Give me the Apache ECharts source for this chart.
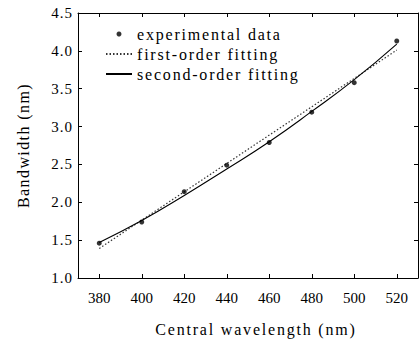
<!DOCTYPE html>
<html>
<head>
<meta charset="utf-8">
<script src="https://cdn.jsdelivr.net/npm/echarts@6/dist/echarts.min.js"></script>
<style>
  html, body { margin: 0; padding: 0; background: #fff; }
  #chart { width: 419px; height: 342px; }
</style>
</head>
<body>
<div id="chart"></div>
<script>
// values
var wavelengths = [380, 400, 420, 440, 460, 480, 500, 520];
var measured = [1.46, 1.74, 2.14, 2.49, 2.79, 3.19, 3.58, 4.13];
var firstOrderX = [380, 520];
var firstOrderY = [1.39, 4.01];
var secondOrderY = [1.47, 1.76, 2.09, 2.44, 2.80, 3.20, 3.62, 4.09];
var xTicks = [380, 400, 420, 440, 460, 480, 500, 520];

function pairs(xs, ys) {
  var out = [];
  for (var i = 0; i < xs.length; i++) out.push([xs[i], ys[i]]);
  return out;
}

var serif = "Liberation Serif";
var chart = echarts.init(document.getElementById("chart"), null, { renderer: "svg" });

var boxAxis = {
  show: true,
  lineStyle: { color: "#000", width: 1 }
};

var option = {
  animation: false,
  grid: { left: 78, right: 1, top: 13, bottom: 59 },
  legend: {
    orient: "vertical",
    left: 100,
    top: 21,
    itemWidth: 26,
    itemHeight: 5,
    itemGap: 4,
    textStyle: { fontFamily: serif, fontSize: 16, color: "#000" },
    data: [
      { name: "experimental data" },
      { name: "first-order fitting", itemStyle: { opacity: 0 } },
      { name: "second-order fitting", itemStyle: { opacity: 0 } }
    ]
  },
  xAxis: [
    {
      type: "value",
      min: 370,
      max: 530,
      axisLine: boxAxis,
      splitLine: { show: false },
      axisTick: { inside: true, length: 4, customValues: xTicks, lineStyle: { color: "#000" } },
      axisLabel: { customValues: xTicks, margin: 12, fontFamily: serif, fontSize: 15, color: "#000" },
      name: "Central wavelength (nm)",
      nameLocation: "middle",
      nameGap: 43,
      nameTextStyle: { fontFamily: serif, fontSize: 16, color: "#000", padding: [0, 0, 0, 16] }
    },
    {
      type: "value",
      position: "top",
      min: 370,
      max: 530,
      axisLine: boxAxis,
      splitLine: { show: false },
      axisTick: { inside: true, length: 4, customValues: xTicks, lineStyle: { color: "#000" } },
      axisLabel: { show: false }
    }
  ],
  yAxis: [
    {
      type: "value",
      min: 1,
      max: 4.5,
      interval: 0.5,
      axisLine: boxAxis,
      splitLine: { show: false },
      axisTick: { inside: true, length: 4, lineStyle: { color: "#000" } },
      axisLabel: {
        margin: 5,
        fontFamily: serif,
        fontSize: 15,
        color: "#000",
        formatter: function (v) { return v.toFixed(1); }
      },
      name: "Bandwidth (nm)",
      nameLocation: "middle",
      nameGap: 47,
      nameTextStyle: { fontFamily: serif, fontSize: 16, color: "#000" }
    },
    {
      type: "value",
      position: "right",
      min: 1,
      max: 4.5,
      interval: 0.5,
      axisLine: boxAxis,
      splitLine: { show: false },
      axisTick: { inside: true, length: 4, lineStyle: { color: "#000" } },
      axisLabel: { show: false }
    }
  ],
  series: [
    {
      name: "experimental data",
      type: "scatter",
      symbol: "circle",
      symbolSize: 5,
      itemStyle: { color: "#000" },
      data: pairs(wavelengths, measured),
      z: 5
    },
    {
      name: "first-order fitting",
      type: "line",
      symbol: "none",
      lineStyle: { color: "#333", width: 1.2, type: [1.5, 2] },
      itemStyle: { color: "#333" },
      data: pairs(firstOrderX, firstOrderY)
    },
    {
      name: "second-order fitting",
      type: "line",
      symbol: "none",
      smooth: true,
      lineStyle: { color: "#000", width: 1.1 },
      itemStyle: { color: "#000" },
      data: pairs(wavelengths, secondOrderY)
    }
  ]
};

chart.setOption(option);

// the printed figure is set with wide letter spacing
function spreadText() {
  var texts = document.querySelectorAll("#chart text");
  texts.forEach(function (t) {
    var s = t.textContent;
    var sp = 0;
    if (s === "Central wavelength (nm)") sp = 1.8;
    else if (s === "Bandwidth (nm)") sp = 1.4;
    else if (s === "experimental data" || s.indexOf("fitting") > -1) sp = 1.8;
    else if (/^\d\.\d$/.test(s)) sp = 1;
    if (sp) t.setAttribute("letter-spacing", sp);
  });
}
spreadText();
chart.on("finished", spreadText);
</script>
</body>
</html>
